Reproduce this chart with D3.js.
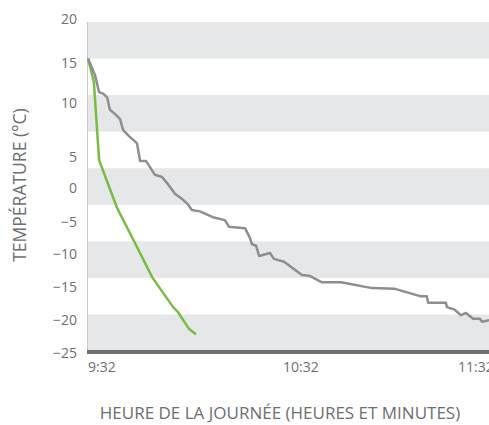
<!DOCTYPE html>
<html>
<head>
<meta charset="utf-8">
<script src="https://cdn.jsdelivr.net/npm/d3@7"></script>
<style>
  body { margin: 0; background: #fff; }
  svg text { font-family: "Open Sans", sans-serif; fill: #6d6e71; }
</style>
</head>
<body>
<div id="graph"></div>
<script>
// temperature ticks (deg C) and time ticks (minutes after 9:32)
const yTicks = [20, 15, 10, 5, 0, -5, -10, -15, -20, -25];
const xTickMinutes = [0, 60, 120];
const xTickLabels = ["9:32", "10:32", "11:32"];

// gray series
const grayMinutes = [0, 1.3, 2.3, 3.6, 4.9, 6.2, 7.1, 8.8, 10.4, 11.4, 13.3, 15.9, 16.9, 18.8, 21.7, 24.0, 25.6, 28.2, 30.5, 32.1, 33.7, 36.3, 40.5, 44.4, 45.7, 50.9, 52.5, 53.2, 54.5, 55.5, 59.0, 60.3, 63.6, 69.4, 71.7, 75.9, 82.1, 92.1, 99.6, 107.7, 109.9, 110.3, 116.1, 116.4, 118.7, 121.0, 122.6, 124.9, 127.1, 127.8, 130.1];
const grayTemps = [15, 13.7, 12.7, 10.4, 10.2, 9.7, 8.0, 7.4, 6.7, 5.2, 4.4, 3.4, 1.0, 1.0, -0.9, -1.2, -2.0, -3.5, -4.2, -4.8, -5.7, -5.9, -6.7, -7.1, -8.0, -8.2, -9.5, -10.4, -10.6, -12.0, -11.6, -12.4, -12.8, -14.6, -14.7, -15.6, -15.6, -16.4, -16.5, -17.5, -17.5, -18.4, -18.4, -19.0, -19.3, -20.1, -19.8, -20.6, -20.6, -21.0, -20.8];

// green series
const greenMinutes = [0, 1.9, 3.6, 9.4, 15.2, 20.8, 27.6, 29.2, 32.8, 35.0];
const greenTemps = [15, 11.8, 1.1, -5.4, -10.2, -14.9, -19.0, -19.7, -22.0, -22.7];

const W = 489, H = 425;
const plotLeft = 88, plotTop = 22, plotBottom = 351;

const svg = d3.select("#graph").append("svg")
  .attr("width", W).attr("height", H);

const x = d3.scaleLinear().domain([0, 120]).range([plotLeft, 458]);
const y = d3.scaleLinear().domain([20, -25]).range([plotTop, plotBottom]);

// alternating bands
const bands = [];
for (let i = 0; i < yTicks.length - 1; i += 2) bands.push([yTicks[i], yTicks[i + 1]]);
svg.append("g").selectAll("rect")
  .data(bands).enter().append("rect")
  .attr("x", plotLeft)
  .attr("width", W - plotLeft)
  .attr("y", d => y(d[0]))
  .attr("height", d => y(d[1]) - y(d[0]))
  .attr("fill", "#e6e7e8");

// left axis line
svg.append("line")
  .attr("x1", plotLeft - 0.5).attr("x2", plotLeft - 0.5)
  .attr("y1", y(20)).attr("y2", y(-25))
  .attr("stroke", "#c7c8ca").attr("stroke-width", 1);

// y axis labels (the source places them unevenly)
const yNudge = {"20": -2.5, "15": 4.4, "10": 7.9, "5": 25.3, "0": 19.8, "-5": 17.2, "-10": 12.7, "-15": 9.1, "-20": 5.6, "-25": 2};
const yAxis = svg.append("g")
  .attr("transform", "translate(" + (plotLeft - 11) + ",0)")
  .call(d3.axisLeft(y).tickValues(yTicks).tickSize(0).tickPadding(0).tickFormat(d3.format("d")));
yAxis.select(".domain").remove();
yAxis.selectAll("text")
  .attr("font-size", 14)
  .attr("font-family", null)
  .attr("fill", "#6d6e71")
  .attr("y", d => yNudge[d]);

// x axis labels
const xNudge = [0, 10, 0];
const xAxis = svg.append("g")
  .attr("transform", "translate(0," + (plotBottom + 2) + ")")
  .call(d3.axisBottom(x).tickValues(xTickMinutes).tickSize(0).tickPadding(0)
    .tickFormat((d, i) => xTickLabels[i]));
xAxis.select(".domain").remove();
xAxis.selectAll("text")
  .attr("font-size", 14)
  .attr("font-family", null)
  .attr("fill", "#6d6e71")
  .attr("text-anchor", "start")
  .attr("x", (d, i) => xNudge[i] - 0.5)
  .attr("y", 9);

// lines
const line = d3.line().x(d => x(d[0])).y(d => y(d[1]));
svg.append("path")
  .datum(d3.zip(greenMinutes, greenTemps))
  .attr("fill", "none")
  .attr("stroke", "#77bc43")
  .attr("stroke-width", 2.5)
  .attr("stroke-linejoin", "round")
  .attr("d", line);
svg.append("path")
  .datum(d3.zip(grayMinutes, grayTemps))
  .attr("fill", "none")
  .attr("stroke", "#8d8e90")
  .attr("stroke-width", 2.5)
  .attr("stroke-linejoin", "round")
  .attr("d", line);

// bottom axis bar
svg.append("line")
  .attr("x1", plotLeft - 1).attr("x2", W)
  .attr("y1", plotBottom + 1).attr("y2", plotBottom + 1)
  .attr("stroke", "#6d6e70").attr("stroke-width", 4);

// titles
svg.append("text")
  .attr("transform", "translate(20,185) rotate(-90)")
  .attr("text-anchor", "middle")
  .attr("dy", "0.35em")
  .attr("font-size", 17.5)
  .text("TEMPÉRATURE (°C)");

svg.append("text")
  .attr("x", 280).attr("y", 413)
  .attr("text-anchor", "middle")
  .attr("dy", "0.35em")
  .attr("font-size", 17)
  .text("HEURE DE LA JOURNÉE (HEURES ET MINUTES)");
</script>
</body>
</html>
